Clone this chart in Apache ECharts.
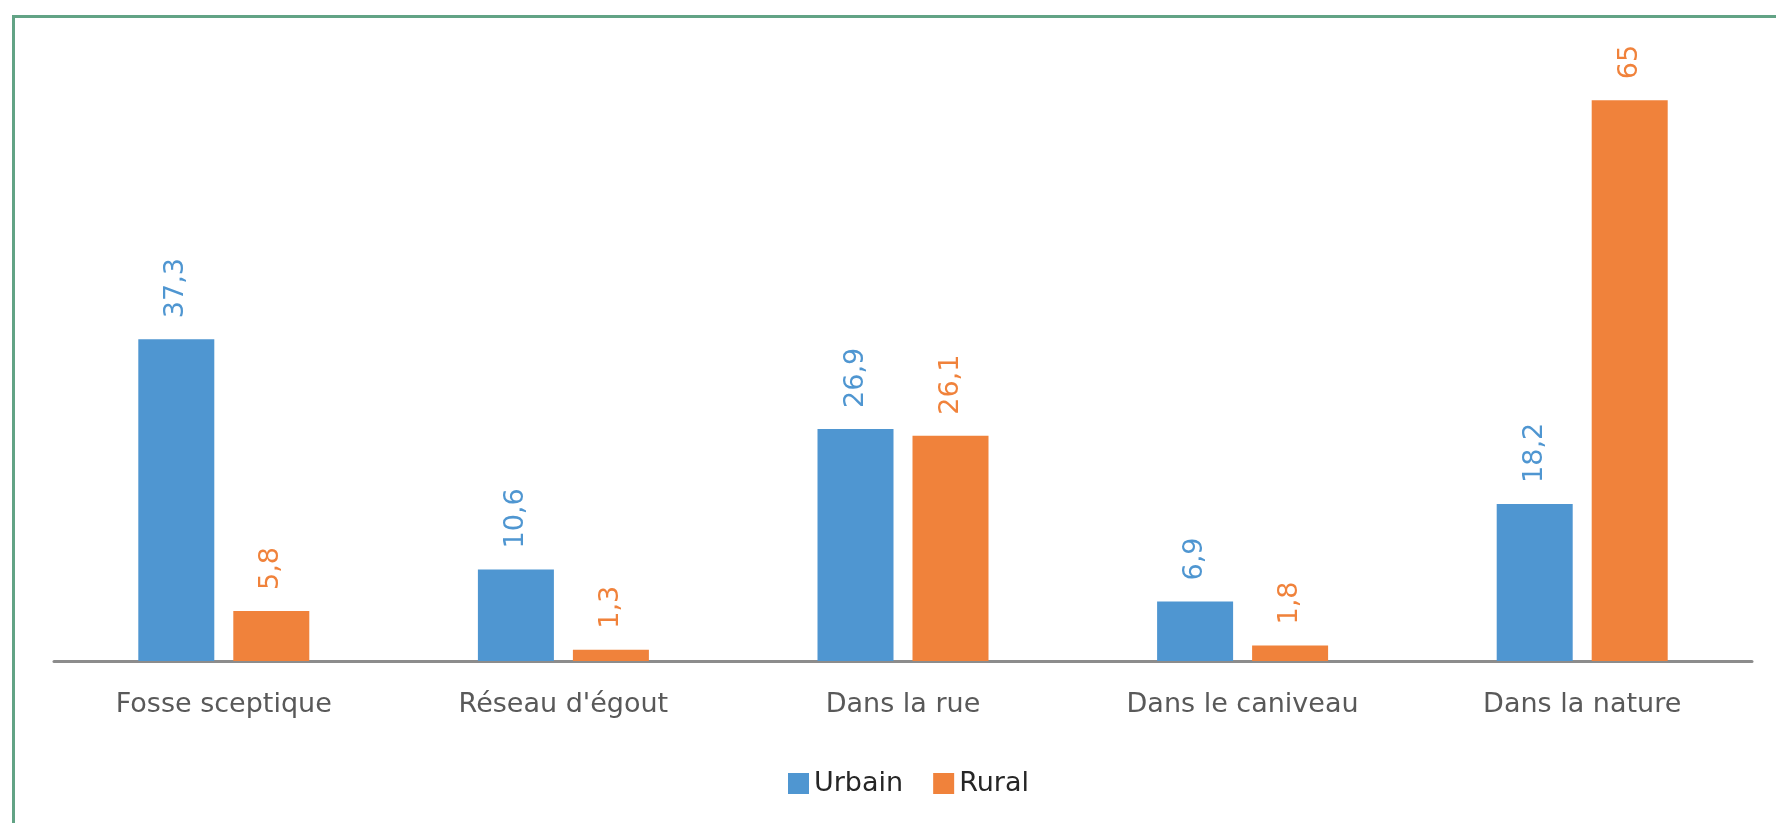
<!DOCTYPE html>
<html>
<head>
<meta charset="utf-8">
<script src="https://cdn.jsdelivr.net/npm/echarts@6/dist/echarts.min.js"></script>
<style>
html, body { margin: 0; padding: 0; background: #fff; }
#main { width: 1776px; height: 823px; }
</style>
</head>
<body>
<div id="main"></div>
<script>
// données
var categories = ['Fosse sceptique', "Réseau d'égout", 'Dans la rue', 'Dans le caniveau', 'Dans la nature'];
var urbain = [37.3, 10.6, 26.9, 6.9, 18.2];
var rural = [5.8, 1.3, 26.1, 1.8, 65];

var chart = echarts.init(document.getElementById('main'));

function virgule(p) {
	return String(p.value).replace('.', ',');
}

function serie(nom, data, couleur) {
	return {
		name: nom,
		type: 'bar',
		data: data,
		barWidth: 76,
		barGap: '25%',
		itemStyle: { color: couleur },
		label: {
			show: true,
			position: 'top',
			rotate: 90,
			align: 'left',
			verticalAlign: 'middle',
			distance: 21,
			color: couleur,
			fontSize: 27,
			fontFamily: 'DejaVu Sans',
			formatter: virgule
		}
	};
}

var option = {
	animation: false,
	grid: { left: 54, right: 24, top: 57, bottom: 162 },
	graphic: [{
		type: 'rect',
		shape: { x: 13.5, y: 16.5, width: 2000, height: 2000 },
		style: { fill: 'none', stroke: '#62a385', lineWidth: 3 }
	}],
	legend: {
		data: ['Urbain', 'Rural'],
		left: 783,
		top: 765,
		icon: 'rect',
		itemWidth: 21,
		itemHeight: 21,
		itemGap: 30,
		textStyle: { fontSize: 27, color: '#262626', fontFamily: 'DejaVu Sans' }
	},
	xAxis: {
		type: 'category',
		data: categories,
		axisLine: { lineStyle: { color: '#8c8c8c', width: 3 } },
		axisTick: { show: false },
		axisLabel: { fontSize: 27, color: '#595959', margin: 30, fontFamily: 'DejaVu Sans' }
	},
	yAxis: {
		type: 'value',
		min: 0,
		max: 70,
		show: false,
		splitLine: { show: false }
	},
	series: [
		serie('Urbain', urbain, '#4f96d1'),
		serie('Rural', rural, '#f0823b')
	]
};
chart.setOption(option);
</script>
</body>
</html>
